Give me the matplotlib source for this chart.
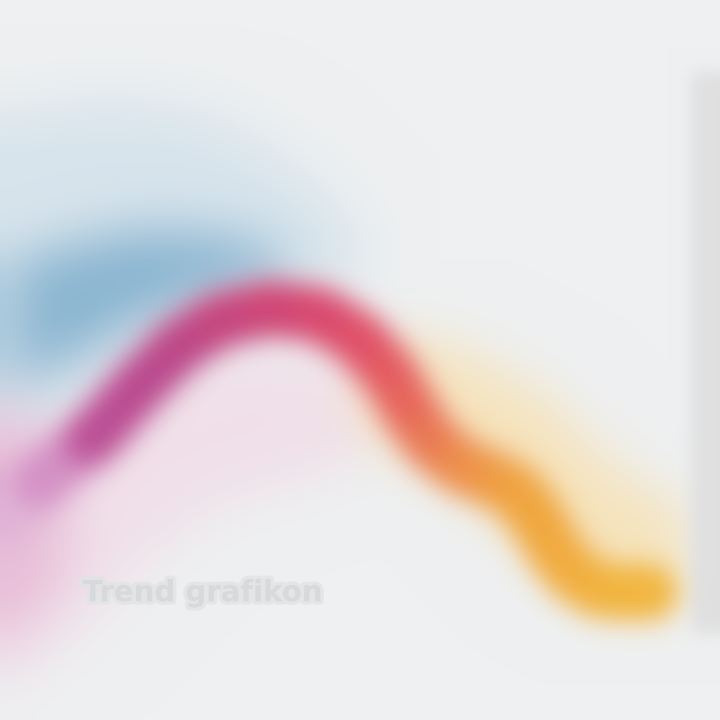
import numpy as np
import matplotlib
matplotlib.use('Agg')
from matplotlib import pyplot as plt
from matplotlib import patheffects
from matplotlib.collections import LineCollection
from matplotlib.colors import LinearSegmentedColormap

# glavna kriva (x, y u procentima platna)
x = [0, 5.6, 12.5, 13.9, 19.4, 25.0, 30.6, 37.5, 44.4, 50.0, 54.2, 56.9, 59.7,
     63.9, 68.1, 71.5, 74.3, 77.1, 79.9, 83.3, 87.5, 90.3]
y = [27.8, 33.3, 38.9, 40.3, 46.5, 52.1, 55.6, 57.2, 56.3, 52.8, 47.9, 43.1, 38.9,
     35.4, 33.6, 31.9, 28.5, 23.6, 20.1, 18.1, 17.8, 17.8]

# plavi oblak iznad krive
plava_x = [0, 10, 20, 30, 40, 50]
plava_donja = [36, 44, 51, 57, 61, 60]
plava_gornja = [84, 86, 86, 84, 78, 68]
tamna_x = [2, 10, 18, 26, 34, 40]
tamna_donja = [46, 50, 55, 58, 60, 61]
tamna_gornja = [64, 66, 68, 68, 67, 64]

# roze oblak ispod krive
roze_x = [0, 5, 10, 20, 30, 40, 50]
roze_donja = [4, 8, 12, 22, 30, 33, 36]
roze_gornja = [46, 42, 40, 46, 51, 51, 47]
jaka_x = [0, 4, 9]
jaka_donja = [10, 14, 20]
jaka_gornja = [44, 40, 37]

# zuti sjaj oko narandzastog dela
zuta_x = [58, 64, 70, 76, 82, 88]
zuta_y = [45, 42, 39, 33, 27, 24]

boje = [(0.0, '#e6c2de'), (0.1, '#d490c4'), (0.16, '#bb4f96'), (0.28, '#b9468a'),
        (0.42, '#cc4478'), (0.56, '#de4a6a'), (0.64, '#e6625c'), (0.72, '#ec884e'),
        (0.82, '#f0a43e'), (1.0, '#f2b63e')]
cmap = LinearSegmentedColormap.from_list('kriva', boje)
pozadina = np.array([0xee, 0xf0, 0xf1]) / 255.0


def novi_sloj():
    fig = plt.figure(figsize=(7.2, 7.2), dpi=100)
    fig.patch.set_alpha(0)
    ax = fig.add_axes([0, 0, 1, 1])
    ax.set_xlim(0, 100)
    ax.set_ylim(0, 100)
    ax.axis('off')
    return fig, ax


def u_niz(fig):
    fig.canvas.draw()
    a = np.asarray(fig.canvas.buffer_rgba()).astype(float) / 255.0
    plt.close(fig)
    a[..., :3] *= a[..., 3:4]
    return a


def zamuti(a, s):
    r = int(3 * s)
    k = np.exp(-0.5 * (np.arange(-r, r + 1) / s) ** 2)
    k /= k.sum()
    p = np.pad(a, ((r, r), (r, r), (0, 0)), mode='reflect')
    p = np.apply_along_axis(lambda v: np.convolve(v, k, mode='valid'), 0, p)
    p = np.apply_along_axis(lambda v: np.convolve(v, k, mode='valid'), 1, p)
    return p


def preko(dno, sloj):
    return dno * (1 - sloj[..., 3:4]) + sloj[..., :3]


# sloj 1: oblaci
fig, ax = novi_sloj()
ax.fill_between(plava_x, plava_donja, plava_gornja, color='#d2e1eb', alpha=0.8, lw=0)
ax.fill_between(tamna_x, tamna_donja, tamna_gornja, color='#86b2cf', alpha=0.95, lw=0)
ax.fill_between(roze_x, roze_donja, roze_gornja, color='#f1dde8', alpha=0.85, lw=0)
ax.fill_between(jaka_x, jaka_donja, jaka_gornja, color='#e8bcd8', alpha=0.95, lw=0)
ax.plot(zuta_x, zuta_y, color='#f7e2b6', lw=85, alpha=0.9, solid_capstyle='round')
oblaci = zamuti(u_niz(fig), 26)

# sloj 2: siva traka desno
fig, ax = novi_sloj()
ax.axvspan(96.0, 100, ymin=0.12, ymax=0.9, color='#e0e0e1', lw=0)
traka = zamuti(u_niz(fig), 8)

# sloj 3: kriva sa gradijentom
fig, ax = novi_sloj()
tacke = np.array([x, y]).T.reshape(-1, 1, 2)
seg = np.concatenate([tacke[:-1], tacke[1:]], axis=1)
t = (np.array(x[:-1]) + np.array(x[1:])) / 2 / max(x)
ax.add_collection(LineCollection(seg, colors=cmap(t), linewidths=40, capstyle='round',
                                 joinstyle='round'))
kriva = zamuti(u_niz(fig), 13)

slika = np.ones((720, 720, 3)) * pozadina
slika = preko(slika, oblaci)
slika = preko(slika, traka)
slika = preko(slika, kriva)
slika = np.clip(slika, 0, 1)

fig = plt.figure(figsize=(7.2, 7.2), dpi=100)
fig.patch.set_facecolor('#eef0f1')
ax = fig.add_axes([0, 0, 1, 1])
ax.imshow(slika, extent=(0, 100, 0, 100), aspect='auto', interpolation='bilinear')
ax.set_xlim(0, 100)
ax.set_ylim(0, 100)
ax.axis('off')
# bledi natpis dole levo
ax.text(11.5, 16.5, 'Trend grafikon', fontsize=21, color='#d6d8da', fontweight='bold',
        alpha=0.9,
        path_effects=[patheffects.withStroke(linewidth=5, foreground='#e2e4e6')])

fig.savefig('out.png', dpi=100, facecolor=fig.get_facecolor())
